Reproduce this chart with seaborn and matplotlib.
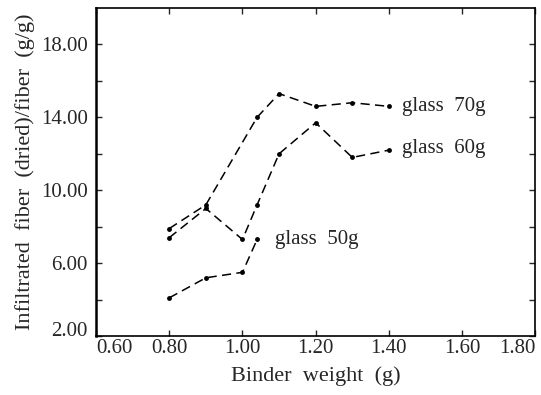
import pandas as pd
import matplotlib
matplotlib.use("Agg")
import matplotlib.pyplot as plt
import seaborn as sns

# Data
x_70 = [0.80, 0.90, 1.04, 1.10, 1.20, 1.30, 1.40]
y_70 = [7.9, 9.2, 14.0, 15.3, 14.6, 14.8, 14.6]

x_60 = [0.80, 0.90, 1.00, 1.04, 1.10, 1.20, 1.30, 1.40]
y_60 = [7.4, 9.0, 7.3, 9.2, 12.0, 13.7, 11.8, 12.2]

x_50 = [0.80, 0.90, 1.00, 1.04]
y_50 = [4.1, 5.2, 5.5, 7.3]

x_ticks = [0.60, 0.80, 1.00, 1.20, 1.40, 1.60, 1.80]
y_ticks = [2, 6, 10, 14, 18]
y_minor = [4, 8, 12, 16]

sns.set_style("ticks")
plt.rcParams['font.family'] = ['Liberation Serif', 'DejaVu Serif']

fig = plt.figure(figsize=(5.41, 3.95), dpi=100)
ax = fig.add_axes([0.1775, 0.149, 0.812, 0.831])

for xs, ys in [(x_70, y_70), (x_60, y_60), (x_50, y_50)]:
    df = pd.DataFrame({"x": xs, "y": ys})
    sns.lineplot(data=df, x="x", y="y", ax=ax, color="black", linestyle=(0, (6, 3.5)),
                 linewidth=1.1, marker="o", markersize=3.5, markeredgewidth=0)

# labels at the line ends
ax.text(1.435, y_70[-1], "glass  70g", fontsize=15, va="center", ha="left")
ax.text(1.435, 12.3, "glass  60g", fontsize=15, va="center", ha="left")
ax.text(1.09, y_50[-1], "glass  50g", fontsize=15, va="center", ha="left")

ax.set_xlim(0.60, 1.80)
ax.set_ylim(2, 20)
ax.set_xticks(x_ticks)
ax.set_xticklabels([f"{v:.2f}" for v in x_ticks])
ax.set_yticks(y_ticks)
ax.set_yticklabels([f"{v:.2f}" for v in y_ticks])
ax.set_yticks(y_minor, minor=True)

ax.tick_params(which="both", direction="in", length=4, width=1, top=True, right=True,
               labelsize=15)
ax.tick_params(axis="x", pad=2)
ax.tick_params(axis="y", pad=6)

xl = ax.get_xticklabels()
xl[0].set_ha("left")
xl[-1].set_ha("right")
ax.get_yticklabels()[0].set_va("baseline")

for sp in ax.spines.values():
    sp.set_visible(True)
    sp.set_linewidth(1.2)
    sp.set_color("black")
ax.spines["left"].set_linewidth(1.8)

ax.set_xlabel("Binder  weight  (g)", fontsize=16, labelpad=6)
ax.set_ylabel("Infiltrated  fiber  (dried)/fiber  (g/g)", fontsize=16, labelpad=4)

fig.savefig("out.png", dpi=100)
